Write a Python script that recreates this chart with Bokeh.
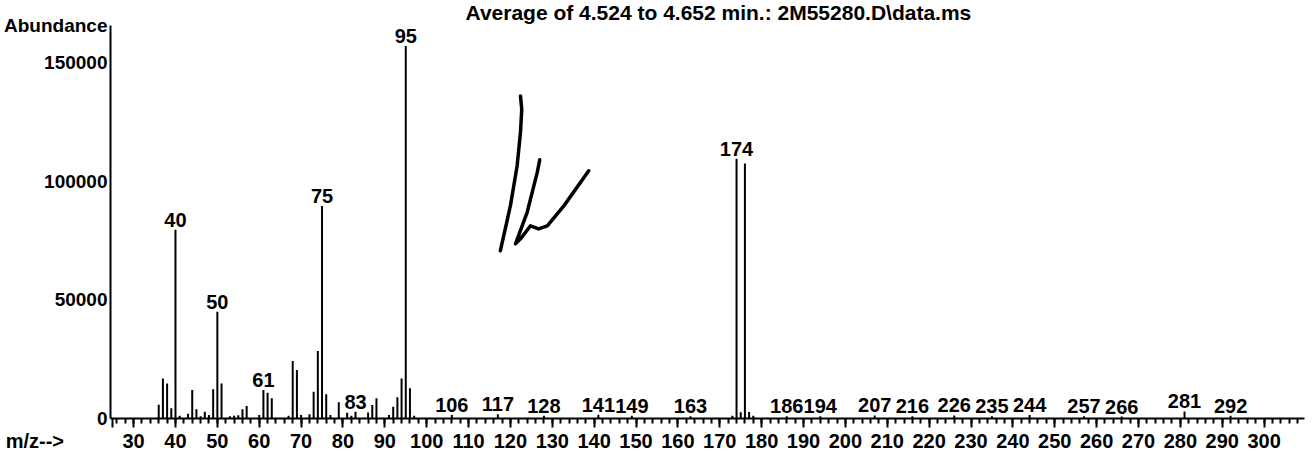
from bokeh.plotting import figure
from bokeh.models import (ColumnDataSource, LabelSet, FixedTicker,
                          Range1d, BasicTickFormatter)
from bokeh.core.properties import value
from bokeh.embed import file_html
from bokeh.resources import INLINE

# ---- data ----
mz = [36, 37, 38, 39, 40, 41, 43, 44, 45, 46, 47, 48, 49, 50, 51, 53, 54, 55,
      56, 57, 60, 61, 62, 63, 67, 68, 69, 70, 72, 73, 74, 75, 76, 77, 79, 81,
      82, 83, 86, 87, 88, 91, 92, 93, 94, 95, 96, 97, 106, 117, 128, 141, 149,
      163, 173, 174, 175, 176, 177, 178, 186, 194, 207, 216, 226, 235, 244,
      257, 266, 281, 292]
abundance = [5800, 16900, 14800, 4300, 79500, 1200, 2000, 12000, 3900, 1000,
             2800, 1500, 12300, 45000, 14800, 900, 1200, 1400, 3900, 5300,
             1500, 12000, 10900, 8500, 1200, 24200, 20400, 1500, 1800, 11300,
             28400, 89500, 10200, 1500, 6800, 2400, 1200, 2800, 2500, 5700,
             8500, 1500, 5000, 9000, 16900, 157000, 12700, 1200, 1500, 1800,
             1200, 1600, 1200, 1000, 1200, 109500, 2600, 107500, 2700, 1200,
             1000, 1000, 1300, 900, 1300, 1000, 1500, 1000, 800, 3000, 1200]

peak_labels = [40, 50, 61, 75, 83, 95, 106, 117, 128, 141, 149, 163, 174, 186,
               194, 207, 216, 226, 235, 244, 257, 266, 281, 292]

x_major_ticks = list(range(30, 301, 10))
x_minor_ticks = list(range(26, 310, 2))
y_ticks = [0, 50000, 100000, 150000]

title_text = "Average of 4.524 to 4.652 min.: 2M55280.D\\data.ms"
y_title = "Abundance"
x_title = "m/z-->"

# handwritten mark on the sheet (in m/z, abundance units)
sign_xs = [[122.4, 122.7, 122.4, 121.6, 120.0, 117.6],
           [127.0, 126.4, 124.0, 121.2, 122.4, 124.8, 126.7, 128.8, 132.8, 138.7]]
sign_ys = [[135900, 130300, 120600, 106500, 89700, 70700],
           [109000, 103700, 86900, 73600, 75700, 81200, 79900, 81200, 89700, 104400]]

X_START, X_END = 24.48, 309.65
Y_END = 165600
X_CAPTION_TICK = 25

FONT = "Liberation Sans"
FS = "20px"

p = figure(width=1306, height=454, output_backend="svg", toolbar_location=None,
           x_range=Range1d(X_START, X_END), y_range=Range1d(0, Y_END),
           min_border_left=110, min_border_right=2, min_border_top=23,
           min_border_bottom=34)
p.outline_line_color = None
p.grid.visible = False
p.background_fill_color = "white"
p.border_fill_color = "white"

p.title.text = title_text
p.title.align = "left"
p.title.vertical_align = "top"
p.title.offset = 355
p.title.standoff = 0
p.title.text_font = FONT
p.title.text_font_size = "21px"
p.title.text_font_style = "bold"
p.title.text_color = "black"

src = ColumnDataSource(dict(x=mz, y0=[0] * len(mz), y1=abundance))
p.segment(x0="x", y0="y0", x1="x", y1="y1", source=src,
          line_color="black", line_width=2)

lab_y = [abundance[mz.index(m)] for m in peak_labels]
lsrc = ColumnDataSource(dict(x=peak_labels, y=lab_y,
                             t=[str(m) for m in peak_labels]))
p.add_layout(LabelSet(x="x", y="y", text="t", source=lsrc, y_offset=3,
                      text_align="center", text_baseline="bottom",
                      text_font=value(FONT), text_font_size=value(FS),
                      text_font_style="bold", text_color="black"))

p.multi_line(xs=sign_xs, ys=sign_ys, line_color="black", line_width=3.5,
             line_cap="round", line_join="round")

# x axis (the "m/z-->" caption is carried by a tick at the left end)
xa = p.xaxis[0]
xa.ticker = FixedTicker(ticks=[X_CAPTION_TICK] + x_major_ticks,
                        minor_ticks=x_minor_ticks)
xa.major_label_overrides = {X_CAPTION_TICK: x_title + "\u00a0" * 28}
xa.axis_line_width = 2
xa.major_tick_line_width = 2
xa.minor_tick_line_width = 2
xa.major_tick_out = 9
xa.major_tick_in = 0
xa.minor_tick_out = 5
xa.minor_tick_in = 0
xa.major_label_standoff = 2
xa.major_label_text_font = FONT
xa.major_label_text_font_size = FS
xa.major_label_text_font_style = "bold"
xa.major_label_text_color = "black"

# y axis (the "Abundance" caption sits on a tick at the top of the axis)
ya = p.yaxis[0]
ya.ticker = FixedTicker(ticks=y_ticks + [Y_END])
ya.formatter = BasicTickFormatter(use_scientific=False)
ya.major_label_overrides = {Y_END: y_title}
ya.axis_line_width = 2
ya.major_tick_out = 0
ya.major_tick_in = 0
ya.minor_tick_out = 0
ya.minor_tick_in = 0
ya.major_label_standoff = 3
ya.major_label_text_font = FONT
ya.major_label_text_font_size = "19px"
ya.major_label_text_font_style = "bold"
ya.major_label_text_color = "black"

open("out.html", "w").write(file_html(p, INLINE))
